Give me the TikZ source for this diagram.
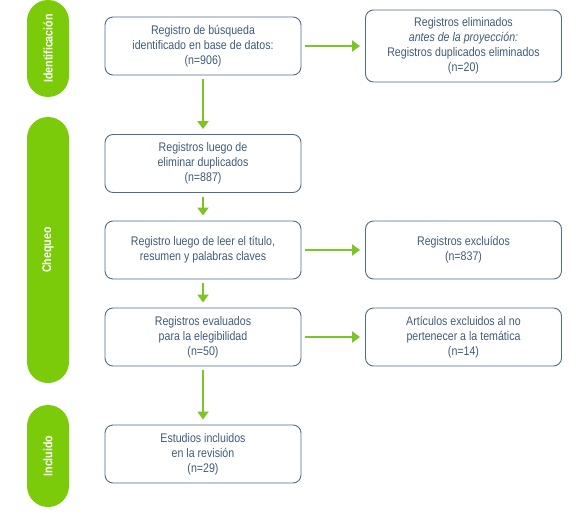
\documentclass[tikz,border=0pt]{standalone}
\usepackage{fontspec}
\setmainfont{Liberation Sans}[FakeStretch=0.85]
\newfontfamily\fasefont{Liberation Sans Bold}[FakeStretch=0.85]
\usetikzlibrary{arrows.meta}
\definecolor{lima}{HTML}{7BCB0A}
\definecolor{flecha}{HTML}{7DC424}
\definecolor{borde}{HTML}{4E6C8C}
\definecolor{texto}{HTML}{3F5B78}
\begin{document}
\begin{tikzpicture}[x=1pt,y=-1pt,
  caja/.style={draw=borde,line width=0.9pt,rounded corners=8pt,minimum width=196pt,
    minimum height=58pt,inner sep=2pt,align=center,text=texto,font=\fontsize{12.5}{15}\selectfont},
  fase/.style={fill=lima,rounded corners=21pt,minimum height=42pt,inner sep=0pt,rotate=90,
    text=white,font=\fasefont\fontsize{12.5}{14}\selectfont},
  f/.style={-{Triangle[length=8pt,width=11pt]},flecha,line width=2pt,shorten >=5pt,shorten <=4pt}]
  \useasboundingbox (0,0) rectangle (582,525);
  % the three phases
  \node[fase,minimum width=97pt] (id) at (48,48.5) {Identificación};
  \node[fase,minimum width=266pt] (ch) at (48,250) {Chequeo};
  \node[fase,minimum width=102pt] (in) at (48,456) {Incluido};
  % main column
  \node[caja] (b1) at (203,46) {Registro de búsqueda\\identificado en base de datos:\\(n=906)};
  \node[caja] (b2) at (203,163.5) {Registros luego de\\eliminar duplicados\\(n=887)};
  \node[caja] (b3) at (203,250) {Registro luego de leer el título,\\resumen y palabras claves};
  \node[caja] (b4) at (203,337) {Registros evaluados\\para la elegibilidad\\(n=50)};
  \node[caja] (b5) at (203,454) {Estudios incluidos\\en la revisión\\(n=29)};
  % excluded records
  \node[caja,minimum height=72pt] (e1) at (463.5,46) {Registros eliminados\\\textit{antes de la proyección:}\\Registros duplicados eliminados\\(n=20)};
  \node[caja] (e2) at (463.5,250) {Registros excluídos\\(n=837)};
  \node[caja] (e3) at (463.5,337) {Artículos excluidos al no\\pertenecer a la temática\\(n=14)};
  \draw[f] (b1) -- (b2);
  \draw[f] (b2) -- (b3);
  \draw[f] (b3) -- (b4);
  \draw[f] (b4) -- (b5);
  \draw[f] (b1) -- (e1);
  \draw[f] (b3) -- (e2);
  \draw[f] (b4) -- (e3);
\end{tikzpicture}
\end{document}
